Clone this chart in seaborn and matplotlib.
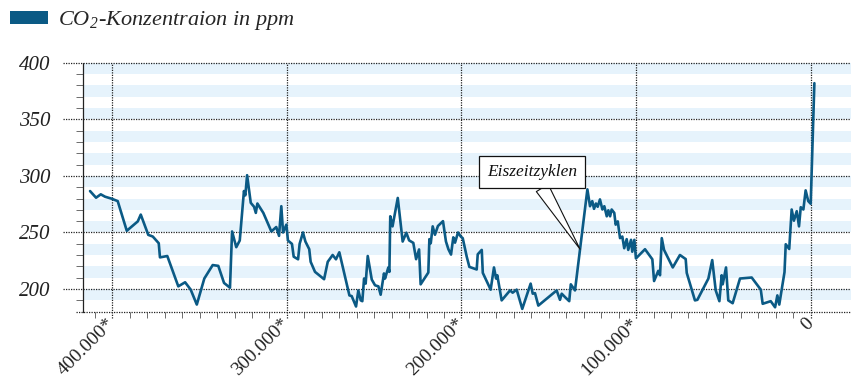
import matplotlib
matplotlib.use("Agg")
import matplotlib.pyplot as plt
from matplotlib.patches import Patch
import seaborn as sns
import pandas as pd
import numpy as np

# ---- data (years before present, CO2 ppm) ----
years = [412750, 409300, 406600, 404150, 400300, 396900, 391700, 385400, 383700, 379400,
         376800, 373400, 372700, 368500, 362200, 358300, 355100, 351600, 347300, 342500,
         339300, 336000, 332600, 331400, 329000, 327000, 324600, 323800, 322800, 320700,
         318800, 317800, 316900, 313500, 308900, 306100, 304500, 303200, 302200, 300300,
         299400, 297100, 296100, 293600, 292700, 290800, 289400, 287200, 286400, 283900,
         278700, 276600, 273800, 271900, 269970, 264200, 262900, 260400, 259100, 257700,
         256800, 255800, 254900, 253700, 251400, 249500, 247600, 246300, 244400, 243800,
         241900, 241300, 240800, 239500, 238600, 236500, 233700, 231600, 230000, 227600,
         226000, 224300, 223400, 219000, 218400, 217600, 216500, 215200, 213500, 210600,
         208900, 207500, 206000, 204700, 203700, 202000, 200400, 199300, 197000, 195500,
         191300, 190700, 188400, 187800, 183300, 181400, 180200, 179500, 177000, 172200,
         170700, 168400, 165200, 160400, 159200, 157900, 156000, 145500, 143600, 142600,
         140700, 138300, 137400, 135000, 127900, 126400, 125100, 124100, 123000, 122000,
         120700, 119300, 118200, 116800, 115900, 114900, 114000, 112500, 111700, 110500,
         109200, 107900, 106800, 105400, 104500, 102900, 102200, 101000, 100100, 94900,
         90700, 89700, 87300, 86300, 85300, 84000, 79000, 74900, 71600, 71000,
         66300, 64900, 58600, 56400, 54400, 52300, 51000, 50400, 48500, 47200,
         44700, 40500, 33800, 28600, 27500, 22900, 20400, 19100, 18000, 15000,
         14300, 12300, 10900, 9600, 8000, 6700, 5700, 4200, 2900, 1400,
         0, -2100]
co2 = [286.6, 280.7, 283.7, 281.6, 279.8, 277.7, 251.5, 259.8, 265.8, 247.9,
       246.4, 240.5, 228.0, 229.2, 202.4, 206.0, 199.5, 186.3, 209.3, 221.2,
       220.5, 205.4, 201.2, 250.9, 237.0, 242.9, 286.6, 282.8, 300.6, 276.2,
       272.7, 267.3, 275.6, 267.3, 250.9, 254.8, 247.0, 273.2, 250.0, 256.9,
       242.9, 239.9, 228.6, 226.3, 240.0, 250.0, 242.0, 235.2, 224.1, 215.2,
       208.7, 224.1, 230.1, 226.3, 232.5, 194.4, 193.8, 184.6, 198.8, 190.0,
       189.3, 209.3, 204.8, 229.2, 208.4, 203.3, 202.4, 195.0, 213.8, 209.3,
       219.1, 215.2, 264.3, 255.4, 262.9, 280.5, 242.0, 249.8, 243.0, 240.8,
       226.4, 235.0, 204.2, 214.6, 244.1, 240.5, 255.4, 248.0, 255.7, 260.0,
       242.0, 235.2, 230.5, 245.7, 241.0, 250.0, 246.4, 245.0, 228.6, 219.6,
       217.3, 230.7, 234.6, 214.3, 199.5, 219.1, 209.3, 212.2, 190.0, 198.8,
       196.8, 199.5, 182.5, 204.8, 195.9, 196.4, 185.4, 198.8, 190.5, 195.9,
       192.9, 189.3, 204.2, 198.8, 288.1, 273.2, 277.7, 270.9, 275.6, 272.7,
       279.2, 270.3, 273.2, 264.3, 269.6, 264.3, 270.3, 267.3, 256.9, 259.8,
       245.0, 246.4, 236.1, 244.1, 234.6, 243.5, 233.0, 243.5, 227.1, 235.2,
       226.3, 207.1, 216.1, 212.2, 245.0, 234.6, 219.1, 230.1, 226.5, 214.3,
       190.0, 190.5, 209.3, 225.6, 198.8, 189.3, 212.2, 204.2, 219.1, 190.0,
       187.5, 209.3, 210.2, 199.5, 187.0, 189.3, 183.9, 194.4, 186.3, 215.0,
       239.6, 235.4, 270.3, 260.4, 268.8, 255.4, 272.3, 270.3, 287.2, 277.7,
       275.4, 381.9]

x_major = [400000, 300000, 200000, 100000, 0]
x_labels = ["400.000*", "300.000*", "200.000*", "100.000*", "0"]
y_major = [200, 250, 300, 350, 400]
series_label = r"CO$_{\mathregular{2}}$-Konzentraion in ppm"
note_text = "Eiszeitzyklen"
note_xy = (132100, 235.2)
note_text_xy = (159500, 303.7)

LINE = "#0b5a85"
BAND = "#e6f3fc"
DOT = (0, (1, 1))

sns.set_style("white")
plt.rcParams["font.family"] = ["Liberation Serif", "DejaVu Serif"]
plt.rcParams["mathtext.fontset"] = "stix"

fig = plt.figure(figsize=(8.51, 3.78), dpi=100)
ax = fig.add_axes([82.7 / 851, 1 - 311.7 / 378, 1 - 82.7 / 851, (311.7 - 62.7) / 378])

# background bands
for lo in range(190, 400, 20):
    ax.axhspan(lo, lo + 10, color=BAND, lw=0, zorder=0)

df = pd.DataFrame({"years": years, "co2": co2})
sns.lineplot(data=df, x="years", y="co2", sort=False, estimator=None,
             color=LINE, linewidth=1.9, ax=ax, legend=False, zorder=3)

ax.set_xlim(416950, -23080)
ax.set_ylim(180, 400)

# grid lines (dotted), extending beyond the axes like long ticks
ax.hlines(y_major, -0.0256, 1, transform=ax.get_yaxis_transform(), colors="#222222",
          linestyles=DOT, lw=0.9, clip_on=False, zorder=2)
ax.hlines([180], -0.009, 1, transform=ax.get_yaxis_transform(), colors="#222222",
          linestyles=DOT, lw=0.9, clip_on=False, zorder=2)
ax.vlines(x_major, -0.026, 1, transform=ax.get_xaxis_transform(), colors="#222222",
          linestyles=DOT, lw=0.9, clip_on=False, zorder=2)

for s in ["top", "right", "bottom"]:
    ax.spines[s].set_visible(False)
ax.spines["left"].set_linestyle(DOT)
ax.spines["left"].set_linewidth(0.9)
ax.spines["left"].set_color("#222222")

ax.set_xticks(x_major, x_labels)
ax.set_yticks(y_major, [str(v) for v in y_major])
ax.set_xticks([v for v in range(410000, 0, -10000) if v not in x_major], minor=True)
ax.set_yticks([v for v in range(190, 400, 10) if v not in y_major], minor=True)

ax.tick_params(axis="y", which="major", length=0, pad=23.5, labelsize=15, labelcolor="#222222")
ax.tick_params(axis="y", which="minor", length=5, width=0.6, color="#555555", direction="out", left=True)
ax.tick_params(axis="x", which="major", length=0, pad=7, labelsize=14, labelcolor="#222222")
ax.tick_params(axis="x", which="minor", length=4.5, width=0.6, color="#555555", direction="out", bottom=True)
for t in ax.get_yticklabels():
    t.set_fontstyle("italic")
for t in ax.get_xticklabels():
    t.set_rotation(45)
    t.set_ha("right")
    t.set_va("center")
    t.set_rotation_mode("anchor")

ax.set_xlabel("")
ax.set_ylabel("")

ax.annotate(note_text, xy=note_xy, xytext=note_text_xy, ha="center", va="center",
            fontsize=12.5, fontstyle="italic", color="#111111", zorder=6,
            bbox=dict(boxstyle="square,pad=0.45", fc="white", ec="#111111", lw=0.9),
            arrowprops=dict(arrowstyle="wedge,tail_width=0.8", fc="white", ec="#111111",
                            lw=0.8, shrinkA=0, shrinkB=0))

fig.legend(handles=[Patch(facecolor=LINE, edgecolor="none")], labels=[series_label],
           loc="center left", bbox_to_anchor=(10 / 851, 1 - 21 / 378), frameon=False,
           borderpad=0, borderaxespad=0, handlelength=1.71, handleheight=0.54,
           handletextpad=0.45, prop=dict(size=16, style="italic"))

fig.savefig("out.png", dpi=100, facecolor="white")
